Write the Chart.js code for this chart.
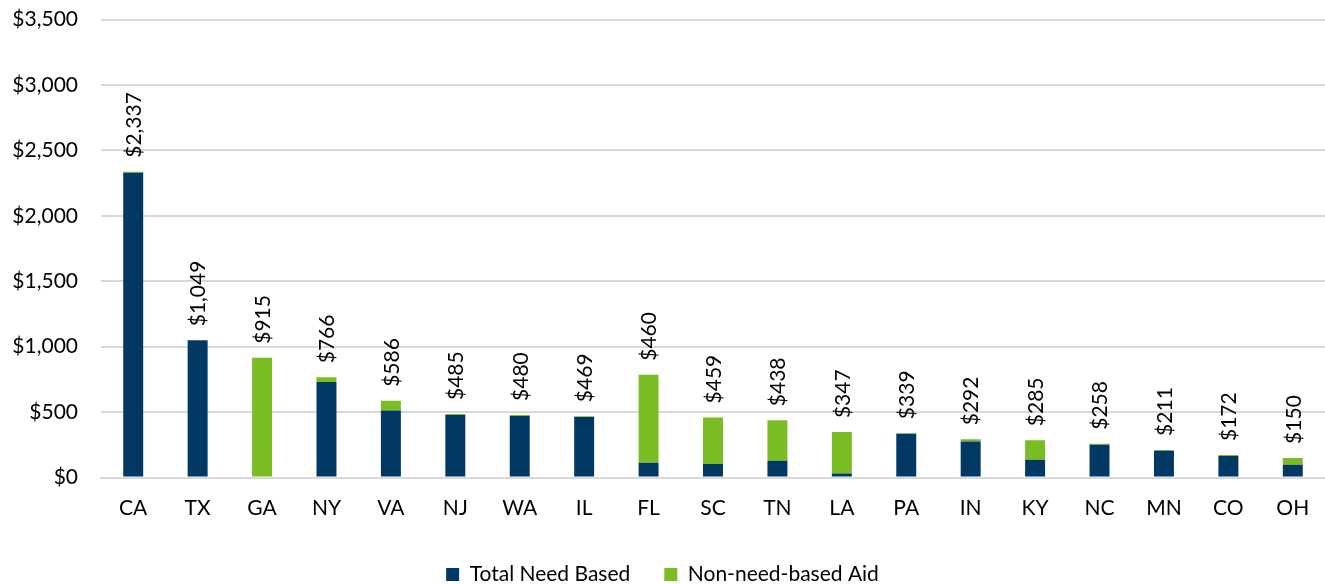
<!DOCTYPE html>
<html>
<head>
<meta charset="utf-8">
<script src="https://cdn.jsdelivr.net/npm/chart.js@4"></script>
<style>
  html, body { margin: 0; padding: 0; background: #fff; overflow: hidden; }
  #wrap { width: 1325px; height: 599px; margin-top: -16px; }
</style>
</head>
<body>
<div id="wrap"><canvas id="grafico"></canvas></div>
<script>
// ============================
// Dados
// ============================
const estados = ["CA", "TX", "GA", "NY", "VA", "NJ", "WA", "IL", "FL", "SC", "TN", "LA", "PA", "IN", "KY", "NC", "MN", "CO", "OH"];
const needBased = [2330, 1049, 0, 730, 513, 478, 470, 463, 112, 104, 128, 30, 334, 275, 135, 250, 205, 165, 98];
const nonNeed = [7, 0, 915, 36, 73, 7, 8, 6, 673, 355, 310, 317, 5, 17, 150, 8, 6, 7, 52];
const rotulos = ["$2,337", "$1,049", "$915", "$766", "$586", "$485", "$480", "$469", "$460", "$459", "$438", "$347", "$339", "$292", "$285", "$258", "$211", "$172", "$150"];
const ticksY = [0, 500, 1000, 1500, 2000, 2500, 3000, 3500];

const FONTE = "Lato, 'Open Sans', sans-serif";
const TAM = 21;

// rótulos girados acima de cada pilha
const pluginRotulos = {
  id: 'rotulos',
  afterDatasetsDraw(chart) {
    const ctx = chart.ctx;
    const meta = chart.getDatasetMeta(1);
    ctx.save();
    ctx.font = TAM + "px " + FONTE;
    ctx.fillStyle = "#000";
    ctx.textAlign = "left";
    ctx.textBaseline = "middle";
    meta.data.forEach((bar, i) => {
      ctx.save();
      ctx.translate(bar.x, bar.y - 14);
      ctx.rotate(-Math.PI / 2);
      ctx.fillText(rotulos[i], 0, 1);
      ctx.restore();
    });
    ctx.restore();
  }
};

const ctx = document.getElementById("grafico").getContext("2d");
new Chart(ctx, {
  type: 'bar',
  data: {
    labels: estados,
    datasets: [
      {
        label: "Total Need Based",
        data: needBased,
        backgroundColor: "#023864",
        borderWidth: 0,
        barPercentage: 0.31,
        categoryPercentage: 1
      },
      {
        label: "Non-need-based Aid",
        data: nonNeed,
        backgroundColor: "#7abd22",
        borderWidth: 0,
        barPercentage: 0.31,
        categoryPercentage: 1
      }
    ]
  },
  options: {
    responsive: true,
    maintainAspectRatio: false,
    animation: false,
    layout: { padding: { top: -6, right: 0, bottom: -12, left: 0 } },
    plugins: {
      legend: {
        position: 'bottom',
        labels: {
          font: { size: TAM, family: FONTE },
          color: "#000",
          boxWidth: 13,
          boxHeight: 13,
          padding: 34
        }
      },
      tooltip: { enabled: false }
    },
    scales: {
      x: {
        stacked: true,
        afterFit: (scale) => { scale.height = 52.5; },
        grid: { display: false },
        border: { display: true, color: "#d9d9d9", width: 2 },
        ticks: { font: { size: TAM, family: FONTE }, color: "#000", padding: 10.5 }
      },
      y: {
        stacked: true,
        min: 0,
        max: 3500,
        afterBuildTicks: (scale) => { scale.ticks = ticksY.map(v => ({ value: v })); },
        afterFit: (scale) => { scale.width = 101; },
        grid: { color: "#d9d9d9", lineWidth: 2, drawTicks: false },
        border: { display: false },
        ticks: {
          font: { size: TAM, family: FONTE },
          color: "#000",
          padding: 23,
          callback: (v) => "$" + Number(v).toLocaleString("en-US")
        }
      }
    }
  },
  plugins: [pluginRotulos]
});
</script>
</body>
</html>
